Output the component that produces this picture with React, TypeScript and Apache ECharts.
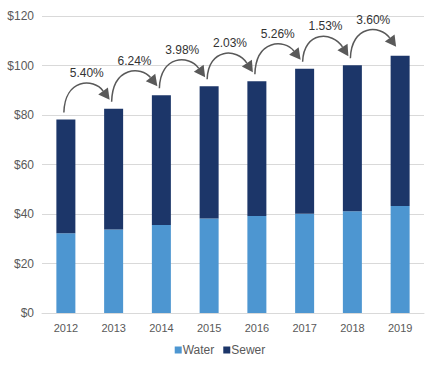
import React, { useEffect, useRef } from "react";
import * as echarts from "echarts";

const years = ["2012", "2013", "2014", "2015", "2016", "2017", "2018", "2019"];
const water = [32.2, 33.7, 35.6, 38.2, 39.2, 40.1, 41.1, 43.2];
const sewer = [46.0, 48.8, 52.4, 53.4, 54.4, 58.6, 59.0, 60.7];
const growth = ["5.40%", "6.24%", "3.98%", "2.03%", "5.26%", "1.53%", "3.60%"];

const FONT = "'Liberation Sans', Arial, sans-serif";

export default function App() {
  const ref = useRef<HTMLDivElement>(null);
  useEffect(() => {
    document.body.style.margin = "0";
    const chart = echarts.init(ref.current!, null, { renderer: "svg" });
    const totals = water.map((w, i) => w + sewer[i]);
    const arcData = growth.map((g, i) => [i, totals[i], totals[i + 1], g]);

    chart.setOption({
      animation: false,
      textStyle: { fontFamily: FONT },
      grid: { left: 42, right: 16, top: 16, bottom: 59 },
      legend: {
        bottom: 11,
        left: "center",
        itemWidth: 7,
        itemHeight: 7,
        itemGap: 9,
        icon: "rect",
        textStyle: { fontFamily: FONT, fontSize: 12, color: "#595959", padding: [0, 0, 0, -4] },
        data: ["Water", "Sewer"],
      },
      xAxis: {
        type: "category",
        data: years,
        axisLine: { lineStyle: { color: "#d9d9d9" } },
        axisTick: { show: false },
        axisLabel: { color: "#595959", fontSize: 11, margin: 9, fontFamily: FONT },
      },
      yAxis: {
        type: "value",
        min: 0,
        max: 120,
        interval: 20,
        axisLine: { show: false },
        axisTick: { show: false },
        splitLine: { lineStyle: { color: "#d9d9d9", width: 1 } },
        axisLabel: {
          color: "#595959",
          fontSize: 12,
          margin: 8,
          fontFamily: FONT,
          formatter: (v: number) => "$" + v,
        },
      },
      series: [
        {
          name: "Water",
          type: "bar",
          stack: "t",
          barWidth: 19,
          data: water,
          itemStyle: { color: "#4D96D1" },
        },
        {
          name: "Sewer",
          type: "bar",
          stack: "t",
          barWidth: 19,
          data: sewer,
          itemStyle: { color: "#1C3669" },
        },
        {
          type: "custom",
          clip: false,
          silent: true,
          z: 10,
          data: arcData,
          renderItem: (params: any, api: any) => {
            const i = api.value(0);
            const t0 = api.value(1);
            const t1 = api.value(2);
            const label = growth[i];
            const p0 = api.coord([i, t0]);
            const p1 = api.coord([i + 1, t1]);
            const S = [p0[0] - 2, p0[1] - 7];
            const E = [p1[0] - 4, p1[1] - 9];
            const peakY = (p0[1] + p1[1]) / 2 - 29;
            const Y = (peakY - 0.125 * (S[1] + E[1])) / 0.75;
            const C1 = [S[0] + 1, Y];
            const C2 = [E[0] - 16, Y];
            let dx = E[0] - C2[0];
            let dy = E[1] - C2[1];
            const len = Math.sqrt(dx * dx + dy * dy);
            dx /= len;
            dy /= len;
            const L = 11;
            const W = 6;
            const B = [E[0] - dx * L, E[1] - dy * L];
            const nx = -dy;
            const ny = dx;
            return {
              type: "group",
              children: [
                {
                  type: "bezierCurve",
                  shape: {
                    x1: S[0], y1: S[1],
                    cpx1: C1[0], cpy1: C1[1],
                    cpx2: C2[0], cpy2: C2[1],
                    x2: B[0], y2: B[1],
                  },
                  style: { stroke: "#595959", lineWidth: 1.5, fill: null },
                },
                {
                  type: "polygon",
                  shape: {
                    points: [
                      [E[0], E[1]],
                      [B[0] + nx * W, B[1] + ny * W],
                      [B[0] - nx * W, B[1] - ny * W],
                    ],
                  },
                  style: { fill: "#595959" },
                },
                {
                  type: "text",
                  x: (S[0] + E[0]) / 2,
                  y: peakY - 12,
                  style: {
                    text: label,
                    fill: "#333333",
                    fontSize: 12,
                    fontFamily: FONT,
                    align: "center",
                    verticalAlign: "middle",
                  },
                },
              ],
            };
          },
        },
      ],
    });
    return () => chart.dispose();
  }, []);
  return <div ref={ref} style={{ width: 440, height: 372 }} />;
}
